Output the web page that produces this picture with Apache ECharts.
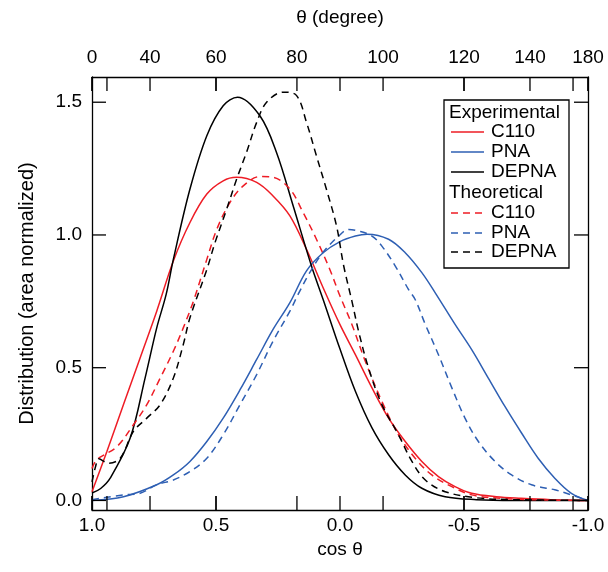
<!DOCTYPE html>
<html>
<head>
<meta charset="utf-8">
<script src="https://cdn.jsdelivr.net/npm/echarts@6/dist/echarts.min.js"></script>
<style>html,body{margin:0;padding:0;background:#fff;}#c{width:608px;height:572px;}</style>
</head>
<body>
<div id="c"></div>
<script>
// ---- tick labels ----
const cosTicks = [1.0, 0.5, 0.0, -0.5, -1.0];
const degreeTicks = [0, 20, 40, 60, 80, 100, 120, 140, 160, 180];
const degreeLabels = [0, 40, 60, 80, 100, 120, 140, 180];
const yTicks = [0.0, 0.5, 1.0, 1.5];

// ---- legend text ----
const legendGroups = ['Experimental', 'Theoretical'];
const sampleNames = ['C110', 'PNA', 'DEPNA'];

// ---- Experimental C110 ----
const expC110X = [1.0, 0.94, 0.873, 0.806, 0.739, 0.672, 0.605, 0.537, 0.471, 0.417, 0.336, 0.270, 0.202, 0.135, 0.068, 0.0, -0.062, -0.129, -0.196, -0.263, -0.330, -0.397, -0.464, -0.531, -0.63, -0.73, -0.85, -1.0];
const expC110Y = [0.033, 0.184, 0.361, 0.537, 0.713, 0.902, 1.047, 1.154, 1.204, 1.217, 1.198, 1.147, 1.072, 0.946, 0.801, 0.662, 0.549, 0.424, 0.310, 0.222, 0.147, 0.090, 0.052, 0.027, 0.014, 0.008, 0.003, 0.0];
// ---- Experimental PNA ----
const expPNAX = [1.0, 0.873, 0.739, 0.672, 0.605, 0.537, 0.471, 0.403, 0.336, 0.270, 0.202, 0.135, 0.068, 0.0, -0.062, -0.109, -0.196, -0.263, -0.330, -0.384, -0.464, -0.531, -0.598, -0.665, -0.732, -0.799, -0.866, -0.933, -1.0];
const expPNAY = [0.0, 0.014, 0.059, 0.096, 0.147, 0.222, 0.310, 0.417, 0.531, 0.644, 0.745, 0.865, 0.933, 0.975, 0.996, 1.003, 0.984, 0.933, 0.858, 0.782, 0.663, 0.568, 0.461, 0.354, 0.254, 0.159, 0.084, 0.027, 0.0];
// ---- Experimental DEPNA ----
const expDEPNAX = [1.0, 0.965, 0.926, 0.846, 0.786, 0.739, 0.701, 0.672, 0.605, 0.537, 0.471, 0.413, 0.323, 0.256, 0.189, 0.115, 0.068, 0.0, -0.062, -0.129, -0.196, -0.263, -0.330, -0.424, -0.55, -0.7, -1.0];
const expDEPNAY = [0.028, 0.045, 0.085, 0.235, 0.461, 0.650, 0.776, 0.908, 1.173, 1.374, 1.487, 1.519, 1.449, 1.311, 1.110, 0.883, 0.757, 0.570, 0.411, 0.273, 0.172, 0.096, 0.046, 0.014, 0.003, 0.0, 0.0];
// ---- Theoretical C110 ----
const theoC110X = [1.0, 0.985, 0.967, 0.899, 0.833, 0.779, 0.725, 0.672, 0.632, 0.591, 0.537, 0.497, 0.444, 0.390, 0.323, 0.270, 0.202, 0.149, 0.095, 0.041, 0.0, -0.048, -0.102, -0.169, -0.236, -0.303, -0.370, -0.451, -0.531, -0.65, -0.8, -1.0];
const theoC110Y = [0.12, 0.15, 0.163, 0.203, 0.285, 0.361, 0.461, 0.562, 0.650, 0.751, 0.908, 1.021, 1.122, 1.185, 1.220, 1.217, 1.173, 1.085, 0.984, 0.870, 0.770, 0.663, 0.524, 0.373, 0.247, 0.159, 0.096, 0.052, 0.021, 0.008, 0.002, 0.0];
// ---- Theoretical PNA ----
const theoPNAX = [1.0, 0.873, 0.806, 0.739, 0.672, 0.605, 0.537, 0.471, 0.403, 0.336, 0.270, 0.202, 0.169, 0.122, 0.068, 0.005, -0.035, -0.075, -0.129, -0.169, -0.223, -0.276, -0.303, -0.344, -0.397, -0.451, -0.504, -0.558, -0.625, -0.692, -0.772, -0.866, -0.933, -1.0];
const theoPNAY = [0.003, 0.021, 0.027, 0.059, 0.077, 0.109, 0.159, 0.247, 0.361, 0.474, 0.600, 0.713, 0.776, 0.858, 0.935, 0.996, 1.021, 1.015, 0.996, 0.958, 0.883, 0.795, 0.757, 0.663, 0.549, 0.424, 0.310, 0.222, 0.147, 0.096, 0.059, 0.040, 0.021, 0.0];
// ---- Theoretical DEPNA ----
const theoDEPNAX = [1.0, 0.985, 0.973, 0.933, 0.886, 0.833, 0.779, 0.725, 0.672, 0.632, 0.605, 0.537, 0.504, 0.457, 0.417, 0.377, 0.336, 0.296, 0.229, 0.175, 0.135, 0.095, 0.055, 0.014, -0.015, -0.048, -0.075, -0.115, -0.169, -0.236, -0.290, -0.344, -0.424, -0.55, -0.7, -1.0];
const theoDEPNAY = [0.07, 0.13, 0.157, 0.140, 0.159, 0.260, 0.310, 0.361, 0.461, 0.587, 0.688, 0.870, 0.971, 1.097, 1.210, 1.311, 1.424, 1.500, 1.538, 1.525, 1.424, 1.298, 1.173, 1.034, 0.883, 0.751, 0.637, 0.499, 0.361, 0.247, 0.147, 0.077, 0.033, 0.010, 0.003, 0.0];

const RED = '#ee1c25', BLUE = '#2e5fb3', BLACK = '#000000';
const COLORS = [RED, BLUE, BLACK];
const DASH = [7, 5];
const FONT = 'Liberation Sans';
const Y_MIN = -0.036, Y_MAX = 1.595;
const TICK = 14;

function pairs(xs, ys) { return xs.map((x, i) => [x, ys[i]]); }
const xTickAll = cosTicks.concat(degreeTicks.map(d => Math.cos(d * Math.PI / 180)));
const degreePos = degreeLabels.map(d => Math.cos(d * Math.PI / 180));
// tick table: [value, kind] kind 0 = x-axis tick, 1 = y-axis tick
const tickTable = xTickAll.map(v => [v, 0]).concat(yTicks.map(v => [v, 1]));

function mkSeries(name, xs, ys, color, dashed) {
  return {
    type: 'line', name: name, data: pairs(xs, ys),
    smooth: 0.35, symbol: 'none', showSymbol: false,
    lineStyle: { color: color, width: 1.5, type: dashed ? DASH : 'solid' },
    itemStyle: { color: color },
    xAxisIndex: 0, yAxisIndex: 0
  };
}

function lineCfg() {
  return { show: true, onZero: false, lineStyle: { color: '#000', width: 1.3 } };
}
const labelStyle = { color: '#000', fontFamily: FONT, fontSize: 19 };
const tickStroke = { stroke: '#000', lineWidth: 1.3 };

const tickSeries = {
  type: 'custom', name: 'ticks', silent: true, clip: false, z: 10,
  xAxisIndex: 0, yAxisIndex: 0,
  data: tickTable,
  renderItem: function (params, api) {
    const v = api.value(0), kind = api.value(1);
    if (kind === 0) {
      const b = api.coord([v, Y_MIN]);
      const t = api.coord([v, Y_MAX]);
      return { type: 'group', children: [
        { type: 'line', shape: { x1: b[0], y1: b[1], x2: b[0], y2: b[1] - TICK }, style: tickStroke },
        { type: 'line', shape: { x1: t[0], y1: t[1], x2: t[0], y2: t[1] + TICK }, style: tickStroke }
      ] };
    }
    const l = api.coord([1, v]);
    const r = api.coord([-1, v]);
    return { type: 'group', children: [
      { type: 'line', shape: { x1: l[0], y1: l[1], x2: l[0] + TICK, y2: l[1] }, style: tickStroke },
      { type: 'line', shape: { x1: r[0], y1: r[1], x2: r[0] - TICK, y2: r[1] }, style: tickStroke }
    ] };
  }
};

const option = {
  animation: false,
  backgroundColor: '#fff',
  grid: { left: 92, right: 20, top: 77, bottom: 62, containLabel: false, outerBoundsMode: 'none' },
  xAxis: [
    {
      type: 'value', position: 'bottom', min: -1, max: 1, inverse: true,
      name: 'cos θ', nameLocation: 'middle', nameGap: 30,
      nameTextStyle: { color: '#000', fontFamily: FONT, fontSize: 19 },
      axisLine: lineCfg(),
      axisTick: { show: false },
      axisLabel: Object.assign({ customValues: cosTicks.slice(), margin: 6, formatter: v => v.toFixed(1) }, labelStyle),
      splitLine: { show: false }
    },
    {
      type: 'value', position: 'top', min: -1, max: 1, inverse: true,
      name: 'θ (degree)', nameLocation: 'middle', nameGap: 50,
      nameTextStyle: { color: '#000', fontFamily: FONT, fontSize: 19 },
      axisLine: lineCfg(),
      axisTick: { show: false },
      axisLabel: Object.assign({ customValues: degreePos, margin: 10,
        formatter: v => String(Math.round(Math.acos(Math.max(-1, Math.min(1, v))) * 180 / Math.PI)) }, labelStyle),
      splitLine: { show: false }
    }
  ],
  yAxis: [
    {
      type: 'value', position: 'left', min: Y_MIN, max: Y_MAX,
      name: 'Distribution (area normalized)', nameLocation: 'middle', nameGap: 55,
      nameTextStyle: { color: '#000', fontFamily: FONT, fontSize: 20 },
      axisLine: lineCfg(),
      axisTick: { show: false },
      axisLabel: Object.assign({ customValues: yTicks.slice(), margin: 10, formatter: v => v.toFixed(1) }, labelStyle),
      splitLine: { show: false }
    },
    {
      type: 'value', position: 'right', min: Y_MIN, max: Y_MAX,
      axisLine: lineCfg(),
      axisTick: { show: false },
      axisLabel: { show: false },
      splitLine: { show: false }
    }
  ],
  series: [
    mkSeries('C110', expC110X, expC110Y, RED, false),
    mkSeries('PNA', expPNAX, expPNAY, BLUE, false),
    mkSeries('DEPNA', expDEPNAX, expDEPNAY, BLACK, false),
    mkSeries('C110 (theory)', theoC110X, theoC110Y, RED, true),
    mkSeries('PNA (theory)', theoPNAX, theoPNAY, BLUE, true),
    mkSeries('DEPNA (theory)', theoDEPNAX, theoDEPNAY, BLACK, true),
    tickSeries
  ]
};

const chart = echarts.init(document.getElementById('c'), null, { renderer: 'canvas' });
chart.setOption(option);

// Legend box drawn as graphics
const g = [];
const LX = 444, LY = 100, LW = 125, LH = 168;
g.push({ type: 'rect', z: 20, silent: true, shape: { x: LX, y: LY, width: LW, height: LH },
  style: { fill: '#fff', stroke: '#000', lineWidth: 1.3 } });
const rowY = [113, 132, 152, 172, 193, 213, 233, 252];
let r = 0;
legendGroups.forEach((grp, gi) => {
  g.push({ type: 'text', z: 21, silent: true, x: LX + 5, y: rowY[r++],
    style: { text: grp, fill: '#000', font: '19px "Liberation Sans"', verticalAlign: 'middle', align: 'left' } });
  sampleNames.forEach((nm, si) => {
    const yy = rowY[r++];
    g.push({ type: 'line', z: 21, silent: true, shape: { x1: LX + 7, y1: yy, x2: LX + 40, y2: yy },
      style: { stroke: COLORS[si], lineWidth: 1.5, lineDash: gi === 1 ? DASH : null } });
    g.push({ type: 'text', z: 21, silent: true, x: LX + 47, y: yy,
      style: { text: nm, fill: '#000', font: '19px "Liberation Sans"', verticalAlign: 'middle', align: 'left' } });
  });
});
chart.setOption({ graphic: g });
</script>
</body>
</html>
